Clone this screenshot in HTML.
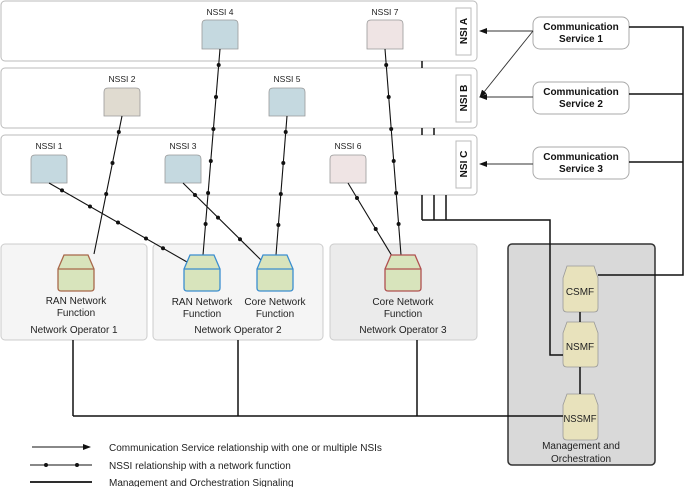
<!DOCTYPE html>
<html><head><meta charset="utf-8"><style>
body{margin:0;background:#fff}
svg{display:block;font-family:"Liberation Sans",sans-serif}
</style></head><body>
<svg width="685" height="487" viewBox="0 0 685 487" xmlns="http://www.w3.org/2000/svg">
<defs>
<marker id="ar" markerWidth="8" markerHeight="8" refX="7" refY="3" orient="auto" markerUnits="userSpaceOnUse"><path d="M0,0 L8,3 L0,6 z" fill="#111"/></marker>
</defs>
<g fill="#fff" stroke="#bbb" stroke-width="1">
<rect x="1" y="1" width="476" height="60" rx="4"/>
<rect x="1" y="68" width="476" height="60" rx="4"/>
<rect x="1" y="135" width="476" height="60" rx="4"/>
<rect x="456" y="8" width="15" height="47"/>
<rect x="456" y="75" width="15" height="47"/>
<rect x="456" y="141" width="15" height="47"/>
</g>
<g font-size="10" font-weight="bold" fill="#111" text-anchor="middle">
<text transform="translate(467,31) rotate(-90)">NSI  A</text>
<text transform="translate(467,98) rotate(-90)">NSI  B</text>
<text transform="translate(467,164) rotate(-90)">NSI  C</text>
</g>
<rect x="1" y="244" width="146" height="96" rx="4" fill="#f5f5f5" stroke="#ccc"/>
<rect x="153" y="244" width="170" height="96" rx="4" fill="#f5f5f5" stroke="#ccc"/>
<rect x="330" y="244" width="147" height="96" rx="4" fill="#ebebeb" stroke="#ccc"/>
<rect x="508" y="244" width="147" height="221" rx="4" fill="#d9d9d9" stroke="#333" stroke-width="1.5"/>
<g stroke="#999" stroke-width="0.8">
<path d="M202,49 V24 Q202,20 206,20 H234 Q238,20 238,24 V49 Z" fill="#c5d9e0"/>
<path d="M367,49 V24 Q367,20 371,20 H399 Q403,20 403,24 V49 Z" fill="#efe4e4"/>
<path d="M104,116 V92 Q104,88 108,88 H136 Q140,88 140,92 V116 Z" fill="#e0dbd0"/>
<path d="M269,116 V92 Q269,88 273,88 H301 Q305,88 305,92 V116 Z" fill="#c5d9e0"/>
<path d="M31,183 V159 Q31,155 35,155 H63 Q67,155 67,159 V183 Z" fill="#c5d9e0"/>
<path d="M165,183 V159 Q165,155 169,155 H197 Q201,155 201,159 V183 Z" fill="#c5d9e0"/>
<path d="M330,183 V159 Q330,155 334,155 H362 Q366,155 366,159 V183 Z" fill="#efe4e4"/>
</g>
<g font-size="8.5" fill="#222" text-anchor="middle">
<text x="220" y="15">NSSI 4</text><text x="385" y="15">NSSI 7</text>
<text x="122" y="82">NSSI 2</text><text x="287" y="82">NSSI 5</text>
<text x="49" y="149">NSSI 1</text><text x="183" y="149">NSSI 3</text><text x="348" y="149">NSSI 6</text>
</g>
<g stroke="#111" stroke-width="1.1" fill="none">
<line x1="220" y1="49" x2="203" y2="255"/>
<line x1="385" y1="49" x2="401" y2="255"/>
<line x1="122" y1="116" x2="94" y2="254"/>
<line x1="287" y1="116" x2="276" y2="255"/>
<line x1="49" y1="183" x2="187" y2="262"/>
<line x1="183" y1="183" x2="261" y2="260"/>
<line x1="348" y1="183" x2="392" y2="256"/>
</g>
<g fill="#111">
<circle cx="218.7" cy="65" r="2"/><circle cx="216" cy="97" r="2"/><circle cx="213.4" cy="129" r="2"/><circle cx="210.8" cy="161" r="2"/><circle cx="208.1" cy="193" r="2"/><circle cx="205.6" cy="224" r="2"/>
<circle cx="386.2" cy="65" r="2"/><circle cx="388.7" cy="97" r="2"/><circle cx="391.2" cy="129" r="2"/><circle cx="393.7" cy="161" r="2"/><circle cx="396.2" cy="193" r="2"/><circle cx="398.6" cy="224" r="2"/>
<circle cx="118.8" cy="132" r="2"/><circle cx="112.5" cy="163" r="2"/><circle cx="106.2" cy="194" r="2"/>
<circle cx="285.7" cy="132" r="2"/><circle cx="283.3" cy="163" r="2"/><circle cx="280.8" cy="194" r="2"/><circle cx="278.4" cy="225" r="2"/>
<circle cx="62" cy="190.4" r="2"/><circle cx="90" cy="206.5" r="2"/><circle cx="118" cy="222.5" r="2"/><circle cx="146" cy="238.5" r="2"/><circle cx="163" cy="248.3" r="2"/>
<circle cx="195" cy="195" r="2"/><circle cx="218" cy="217.6" r="2"/><circle cx="240" cy="239.3" r="2"/>
<circle cx="357" cy="198" r="2"/><circle cx="375.7" cy="229" r="2"/>
</g>
<g stroke-width="1.3">
<path d="M58,269 L64,255 H88 L94,269 V288 Q94,291 91,291 H61 Q58,291 58,288 Z M58,269 H94" fill="#d8e4bc" stroke="#a8684a"/>
<path d="M184,269 L190,255 H214 L220,269 V288 Q220,291 217,291 H187 Q184,291 184,288 Z M184,269 H220" fill="#d8e4bc" stroke="#3b8ed0"/>
<path d="M257,269 L263,255 H287 L293,269 V288 Q293,291 290,291 H260 Q257,291 257,288 Z M257,269 H293" fill="#d8e4bc" stroke="#3b8ed0"/>
<path d="M385,269 L391,255 H415 L421,269 V288 Q421,291 418,291 H388 Q385,291 385,288 Z M385,269 H421" fill="#d8e4bc" stroke="#b05050"/>
</g>
<g font-size="10" fill="#222" text-anchor="middle">
<text x="76" y="304">RAN Network</text><text x="76" y="316">Function</text>
<text x="202" y="305">RAN Network</text><text x="202" y="317">Function</text>
<text x="275" y="305">Core Network</text><text x="275" y="317">Function</text>
<text x="403" y="305">Core Network</text><text x="403" y="317">Function</text>
<text x="74" y="333">Network Operator 1</text>
<text x="238" y="333">Network Operator 2</text>
<text x="403" y="333">Network Operator 3</text>
<text x="581" y="449">Management and</text><text x="581" y="462">Orchestration</text>
</g>
<g fill="#e8e2bc" stroke="#999" stroke-width="0.8">
<path d="M563,278 L567,266 H594 L598,278 V308 Q598,312 594,312 H567 Q563,312 563,308 Z"/>
<path d="M563,333 L567,322 H594 L598,333 V363 Q598,367 594,367 H567 Q563,367 563,363 Z"/>
<path d="M563,405 L567,394 H594 L598,405 V436 Q598,440 594,440 H567 Q563,440 563,436 Z"/>
</g>
<g font-size="10" fill="#222" text-anchor="middle">
<text x="580" y="295">CSMF</text><text x="580" y="350">NSMF</text><text x="580" y="422" textLength="33" lengthAdjust="spacingAndGlyphs">NSSMF</text>
</g>
<g fill="#fff" stroke="#aaa">
<rect x="533" y="17" width="96" height="32" rx="7"/>
<rect x="533" y="82" width="96" height="32" rx="7"/>
<rect x="533" y="147" width="96" height="32" rx="7"/>
</g>
<g font-size="10" font-weight="bold" fill="#111" text-anchor="middle">
<text x="581" y="30">Communication</text><text x="581" y="42">Service 1</text>
<text x="581" y="95">Communication</text><text x="581" y="107">Service 2</text>
<text x="581" y="160">Communication</text><text x="581" y="172">Service 3</text>
</g>
<g stroke="#333" stroke-width="0.9" fill="none" marker-end="url(#ar)">
<line x1="533" y1="31" x2="480" y2="31"/>
<line x1="533" y1="31" x2="480" y2="97"/>
<line x1="533" y1="97" x2="480" y2="97"/>
<line x1="533" y1="164" x2="480" y2="164"/>
</g>
<g stroke="#111" stroke-width="1.5" fill="none">
<polyline points="629,27 683,27 683,275 598,275"/>
<line x1="629" y1="94" x2="683" y2="94"/>
<line x1="629" y1="162" x2="683" y2="162"/>
<line x1="422" y1="61" x2="422" y2="68"/>
<line x1="422" y1="128" x2="422" y2="135"/>
<line x1="434" y1="128" x2="434" y2="135"/>
<line x1="422" y1="195" x2="422" y2="220"/>
<line x1="434" y1="195" x2="434" y2="220"/>
<line x1="446" y1="195" x2="446" y2="220"/>
<polyline points="422,220 550,220 550,355 563,355"/>
<line x1="580" y1="312" x2="580" y2="322"/>
<line x1="580" y1="367" x2="580" y2="394"/>
<line x1="73" y1="340" x2="73" y2="416"/>
<line x1="238" y1="340" x2="238" y2="416"/>
<line x1="417" y1="340" x2="417" y2="416"/>
<line x1="73" y1="416" x2="563" y2="416"/>
</g>
<line x1="32" y1="447" x2="90" y2="447" stroke="#111" stroke-width="1" marker-end="url(#ar)"/>
<line x1="30" y1="465" x2="92" y2="465" stroke="#111" stroke-width="1"/>
<circle cx="46" cy="465" r="2" fill="#111"/><circle cx="77" cy="465" r="2" fill="#111"/>
<line x1="30" y1="482" x2="92" y2="482" stroke="#111" stroke-width="1.8"/>
<g font-size="10" fill="#222">
<text x="109" y="451">Communication Service relationship with one or multiple NSIs</text>
<text x="109" y="469">NSSI relationship with a network function</text>
<text x="109" y="486">Management and Orchestration Signaling</text>
</g>
</svg>
</body></html>
